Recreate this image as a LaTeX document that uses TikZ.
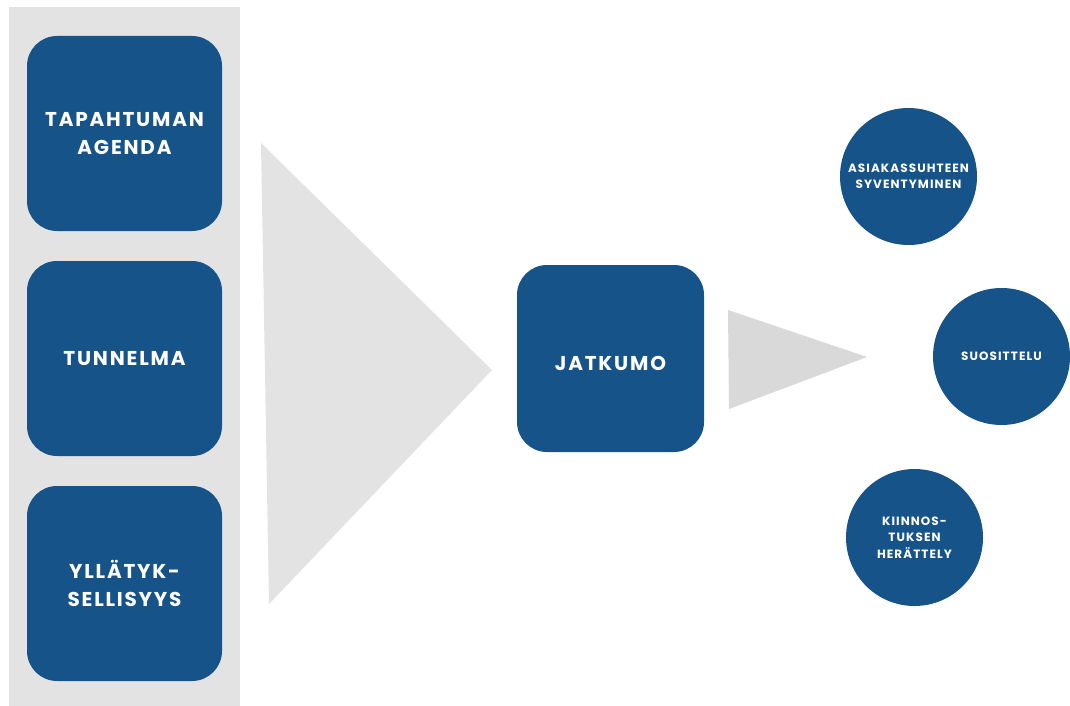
\documentclass[tikz,border=0pt]{standalone}
\usepackage{fontspec}
\newfontfamily\popfont{Poppins}[LetterSpace=9]
\definecolor{navy}{HTML}{165389}
\definecolor{panelgray}{HTML}{E3E3E3}
\definecolor{arrowgray}{HTML}{D9D9D9}
\tikzset{
  bigbox/.style={fill=navy, rounded corners=30pt, minimum width=195pt, minimum height=195pt,
    inner sep=0pt, align=center, text=white,
    font=\popfont\bfseries\fontsize{20}{28}\selectfont},
  ring/.style={circle, fill=navy, minimum size=137pt, inner sep=0pt, align=center, text=white,
    font=\popfont\bfseries\fontsize{12}{16.5}\selectfont},
}
\begin{document}
\begin{tikzpicture}[x=1pt,y=-1pt]
\useasboundingbox (0,0) rectangle (1070,706);
% left panel
\fill[panelgray] (9,7) rectangle (240,706);
% three input boxes
\node[bigbox] (agenda) at (124.5,133.5) {TAPAHTUMAN\\AGENDA};
\node[bigbox] (tunnelma) at (124.5,358.5) {TUNNELMA};
\node[bigbox] (yllatys) at (124.5,583.5) {YLLÄTYK-\\SELLISYYS};
% funnel triangle
\fill[panelgray] (261,143) -- (492,370) -- (269,604) -- cycle;
% central box
\node[bigbox, minimum width=187pt, minimum height=187pt, text height=24pt] (jatkumo) at (610.5,358.5) {JATKUMO};
% small arrow triangle
\fill[arrowgray] (728,310) -- (867,357) -- (729,409) -- cycle;
% outcome circles
\node[ring] (asiakas) at (908.5,176.5) {ASIAKASSUHTEEN\\SYVENTYMINEN};
\node[ring] (suosittelu) at (1001.5,356.5) {SUOSITTELU};
\node[ring] (kiinnostus) at (914.5,537.5) {KIINNOS-\\TUKSEN\\HERÄTTELY};
\end{tikzpicture}
\end{document}
